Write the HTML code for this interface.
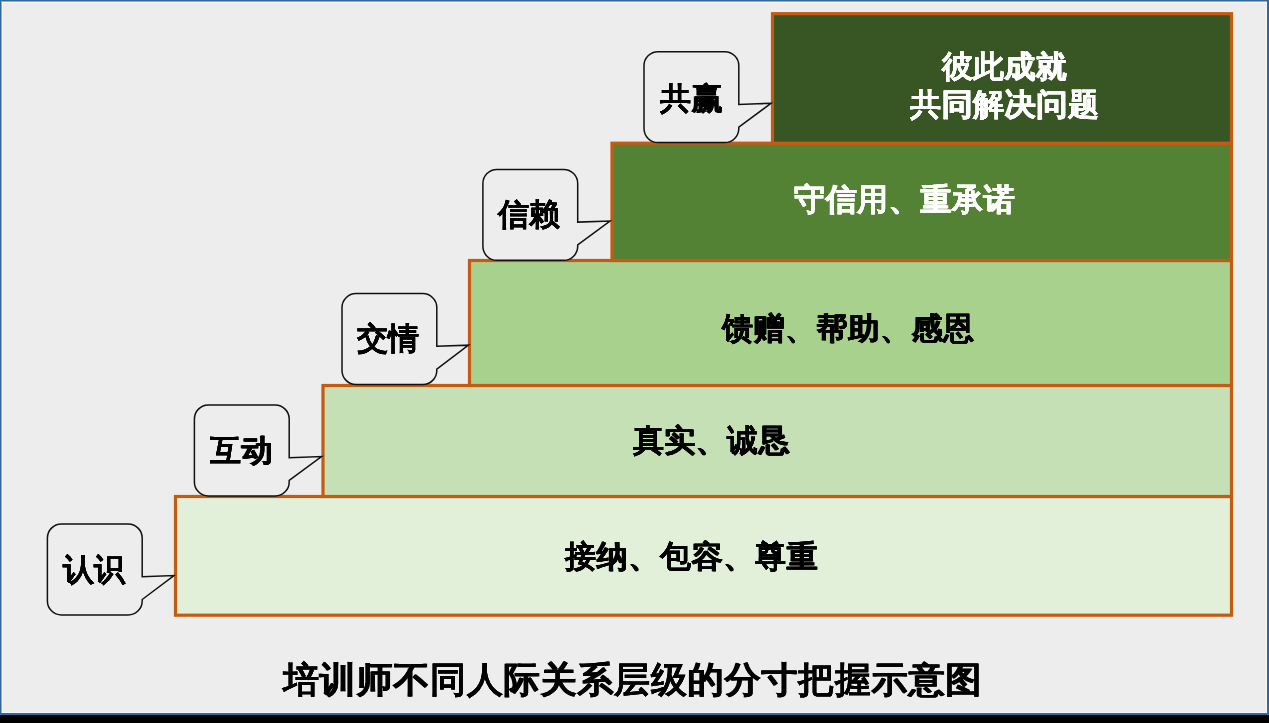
<!DOCTYPE html>
<html><head><meta charset="utf-8">
<style>
html,body{margin:0;padding:0;background:#000;}
body{width:1269px;height:723px;position:relative;overflow:hidden;font-family:"Liberation Sans",sans-serif;}
#frame{position:absolute;left:0;top:0;width:1269px;height:715px;background:#33689d;}
#mid{position:absolute;left:1px;top:1px;width:1266px;height:712px;background:#93abc4;}
#inner{position:absolute;left:2px;top:2px;width:1265px;height:711px;background:#f8f4f0;}
#slide{position:absolute;left:3px;top:3px;width:1263px;height:709px;background:#ededed;}
svg{position:absolute;left:0;top:0;}
.t{position:absolute;white-space:nowrap;font-weight:bold;line-height:1;font-size:31.2px;color:#000;text-shadow:0.3px 0 currentColor,-0.3px 0 currentColor,0 0.25px currentColor;will-change:transform;}
.w{color:#fff;}
</style></head><body>
<div id="frame"></div><div id="mid"></div><div id="inner"></div><div id="slide"></div>
<svg width="1269" height="723" viewBox="0 0 1269 723">
 <g stroke="#c55a11" stroke-width="3.2">
  <rect x="175.5" y="496.5" width="1056" height="118.7" fill="#e2f0d9"/>
  <rect x="323" y="385.5" width="908.5" height="111" fill="#c5e0b4"/>
  <rect x="469.5" y="260.5" width="762" height="125" fill="#a9d18e"/>
  <rect x="612" y="143.2" width="619.5" height="117.3" fill="#548235"/>
  <rect x="772.5" y="13.7" width="459" height="129.5" fill="#375623"/>
 </g>
 <g stroke="#111" stroke-width="1.5" fill="#ededed" stroke-linejoin="miter">
  <path d="M658.0,51.7H724.8A14,14 0 0 1 738.8,65.7V104.4L771.0,103.3L738.8,127.2V128.6A14,14 0 0 1 724.8,142.6H658.0A14,14 0 0 1 644.0,128.6V65.7A14,14 0 0 1 658.0,51.7Z"/>
  <path d="M496.9,169.4H563.7A14,14 0 0 1 577.7,183.4V222.1L610.0,221.0L577.7,244.9V246.3A14,14 0 0 1 563.7,260.3H496.9A14,14 0 0 1 482.9,246.3V183.4A14,14 0 0 1 496.9,169.4Z"/>
  <path d="M356.0,293.6H422.8A14,14 0 0 1 436.8,307.6V346.3L468.5,345.2L436.8,369.1V370.5A14,14 0 0 1 422.8,384.5H356.0A14,14 0 0 1 342.0,370.5V307.6A14,14 0 0 1 356.0,293.6Z"/>
  <path d="M208.4,405.0H275.2A14,14 0 0 1 289.2,419.0V457.7L321.5,456.6L289.2,480.5V481.9A14,14 0 0 1 275.2,495.9H208.4A14,14 0 0 1 194.4,481.9V419.0A14,14 0 0 1 208.4,405.0Z"/>
  <path d="M61.4,524.0H128.2A14,14 0 0 1 142.2,538.0V576.7L174.0,575.6L142.2,599.5V600.9A14,14 0 0 1 128.2,614.9H61.4A14,14 0 0 1 47.4,600.9V538.0A14,14 0 0 1 61.4,524.0Z"/>
 </g>
</svg>
<div class="t w" style="left:942px;top:51px;letter-spacing:0.2px">彼此成就</div>
<div class="t w" style="left:910px;top:89px;letter-spacing:0.6px">共同解决问题</div>
<div class="t w" style="left:794px;top:184px;letter-spacing:0.6px">守信用、重承诺</div>
<div class="t" style="left:722px;top:313px;letter-spacing:0.6px">馈赠、帮助、感恩</div>
<div class="t" style="left:633px;top:425px;letter-spacing:0.4px">真实、诚恳</div>
<div class="t" style="left:565px;top:541px;letter-spacing:0.65px">接纳、包容、尊重</div>
<div class="t" style="left:660px;top:83px;letter-spacing:0.6px">共赢</div>
<div class="t" style="left:498px;top:199px">信赖</div>
<div class="t" style="left:357px;top:323px">交情</div>
<div class="t" style="left:210px;top:435px;letter-spacing:0.8px">互动</div>
<div class="t" style="left:63px;top:554px">认识</div>
<div class="t" style="left:283px;top:663px;font-size:35.6px;letter-spacing:0.8px;text-shadow:0.3px 0 #000,-0.3px 0 #000">培训师不同人际关系层级的分寸把握示意图</div>
</body></html>
